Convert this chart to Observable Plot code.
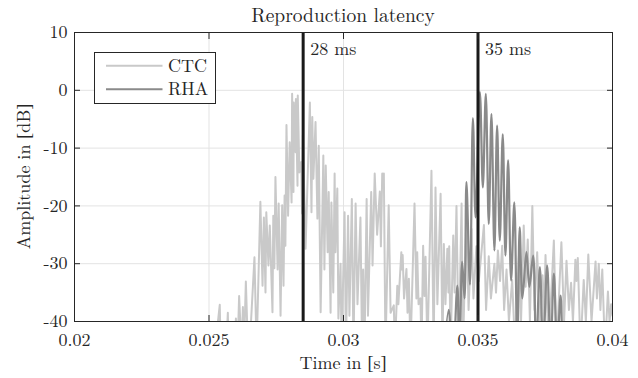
<!DOCTYPE html>
<html><head><meta charset="utf-8">
<script src="https://cdn.jsdelivr.net/npm/d3@7"></script>
<script src="https://cdn.jsdelivr.net/npm/@observablehq/plot@0.6"></script>
<style>
html,body{margin:0;padding:0;background:#fff;}
</style></head><body><div id="chart"></div>
<script>
// CTC series: time in ms, level in dB (values below -40 fall outside the axis)
const ctcT = [20.00,24.87,25.40,25.50,25.70,25.80,26.00,26.06,26.12,26.21,26.26,26.30,26.37,26.47,26.69,26.77,26.91,26.99,27.04,27.10,27.13,27.21,27.26,27.36,27.39,27.43,27.47,27.55,27.59,27.66,27.72,27.77,27.81,27.84,27.88,27.94,28.00,28.07,28.09,28.14,28.15,28.22,28.23,28.29,28.30,28.36,28.43,28.46,28.49,28.59,28.75,28.81,28.84,28.88,28.96,29.03,29.08,29.15,29.25,29.29,29.34,29.41,29.45,29.52,29.55,29.62,29.67,29.70,29.77,29.81,29.89,29.93,30.04,30.09,30.17,30.22,30.31,30.37,30.45,30.52,30.63,30.69,30.73,30.78,30.86,30.91,31.03,31.08,31.16,31.25,31.35,31.39,31.44,31.47,31.50,31.56,31.68,31.75,31.87,31.91,32.00,32.04,32.15,32.17,32.20,32.25,32.34,32.38,32.43,32.49,32.64,32.71,32.74,32.79,32.86,32.90,32.96,33.01,33.05,33.12,33.27,33.35,33.42,33.49,33.61,33.68,33.73,33.79,33.86,33.90,33.93,33.98,34.08,34.13,34.20,34.28,34.39,34.44,34.57,34.65,34.76,34.83,34.94,35.03,35.22,35.30,35.40,35.48,35.61,35.67,35.74,35.82,35.90,35.97,36.06,36.15,36.27,36.38,36.52,36.60,36.70,36.77,36.85,36.93,37.02,37.10,37.20,37.29,37.40,37.45,37.51,37.62,37.82,37.92,38.10,38.20,38.29,38.38,38.46,38.53,38.62,38.66,38.71,38.81,38.93,39.01,39.10,39.22,39.37,39.42,39.49,39.55,39.62,39.72,39.83,39.89,39.95,40.00];
const ctcDb = [-60,-60,-37.1,-60,-38.5,-60,-39.5,-45,-35.6,-45,-37.5,-45,-33.1,-48,-28.9,-45,-19.3,-33.8,-22,-35,-21.1,-30.3,-23.4,-38.4,-21.7,-30.8,-15.0,-31,-19.6,-39,-19.9,-33.8,-18.2,-26.9,-6.0,-21.7,-9,-19.4,-0.6,-17.6,-2.1,-10.7,-1.5,-16.5,-0.9,-14.2,-12.4,-21.3,-7.8,-27.4,-2.1,-21.1,-4.6,-15.3,-5.5,-22.2,-9.6,-38.4,-11.3,-31,-13,-28,-17.6,-38.5,-19.4,-35,-14.4,-28,-17.0,-39.5,-30,-45,-21.1,-45,-21.7,-39,-18.8,-45,-19.6,-37,-22,-45,-31,-45,-18.8,-39,-17.6,-30.3,-14.4,-25,-17.5,-27,-14.4,-16,-14.4,-45,-19.9,-38.5,-37.2,-45,-33.8,-37,-28,-31,-28.5,-36,-30.9,-38.5,-32.6,-45,-19.6,-36,-28,-37,-36,-45,-26.9,-35.6,-28.8,-45,-13.9,-45,-16.8,-37,-17.9,-45,-26.6,-37,-27.4,-35,-27,-45,-25.1,-35,-20,-45,-19.6,-45,-21.5,-38,-24,-36,-27,-33,-23.3,-38,-28.7,-36,-30,-35,-27.7,-33,-26.9,-38,-31,-40,-32.8,-45,-28.7,-40,-23.4,-34,-25.8,-40,-20,-38,-28,-40,-32,-40,-28.5,-45,-26,-45,-26.3,-40,-29.5,-38,-33.3,-40,-29.3,-33,-29,-45,-32.8,-40,-28.4,-40,-29.6,-36,-30,-38,-31,-45,-34.8,-40,-37,-39];

// RHA series: time in ms, level in dB
const rhaT = [33.50,33.91,34.05,34.23,34.31,34.41,34.50,34.57,34.70,34.81,34.91,35.07,35.18,35.29,35.40,35.50,35.61,35.71,35.81,35.92,36.02,36.12,36.23,36.35,36.46,36.55,36.65,36.80,36.91,37.05,37.16,37.30,37.42,37.57,37.70,37.82,37.94,38.07,38.18,38.40];
const rhaDb = [-60,-38,-50,-33.8,-45,-29.7,-36,-15.9,-33.6,-4.8,-22,-0.3,-16.8,-0.6,-23.1,-4.1,-27.7,-6.1,-26,-7.6,-28.6,-12.1,-32.9,-19.4,-45,-23.7,-36,-28,-34,-28.6,-45,-30.6,-45,-30.3,-45,-31.7,-45,-35.5,-50,-60];

const markerT = [0.0285, 0.035];
const markerLabels = ["28 ms", "35 ms"];
const xTicks = [0.02, 0.025, 0.03, 0.035, 0.04];
const xTickLabels = ["0.02", "0.025", "0.03", "0.035", "0.04"];
const yTicks = [-40, -30, -20, -10, 0, 10];
const yTickLabels = ["-40", "-30", "-20", "-10", "0", "10"];
const seriesNames = ["CTC", "RHA"];
const seriesColors = ["#c9c9c9", "#8a8a8a"];

const ctc = ctcT.map((t, i) => ({time: t / 1000, db: ctcDb[i]}));
const rha = rhaT.map((t, i) => ({time: t / 1000, db: rhaDb[i]}));
const markers = markerT.map((t, i) => ({time: t, label: markerLabels[i]}));

const FONT = "Latin Modern Roman";
const BRACKET_FONT = "Liberation Serif";
const INK = "#262626";

const plot = Plot.plot({
  width: 638, height: 378,
  marginLeft: 74, marginRight: 26, marginTop: 32, marginBottom: 57,
  style: {fontFamily: FONT, fontSize: "18px", color: INK, background: "#fff"},
  x: {domain: [0.02, 0.04], label: null},
  y: {domain: [-40, 10], label: null},
  marks: [
    Plot.gridX(xTicks.slice(1, -1), {stroke: "#e3e3e3", strokeOpacity: 1}),
    Plot.gridY(yTicks.slice(1, -1), {stroke: "#e3e3e3", strokeOpacity: 1}),
    Plot.line(ctc, {x: "time", y: "db", stroke: seriesColors[0], strokeWidth: 2, clip: true}),
    Plot.line(rha, {x: "time", y: "db", stroke: seriesColors[1], strokeWidth: 2.2, curve: "catmull-rom", clip: true}),
    Plot.ruleX(markers, {x: "time", stroke: "#1a1a1a", strokeWidth: 3}),
    Plot.text(markers, {x: "time", text: "label", frameAnchor: "top", textAnchor: "start", lineAnchor: "top", dx: 7, dy: 10, fill: INK, fontSize: 18, fontFamily: FONT}),
    Plot.frame({stroke: INK, strokeWidth: 1}),
    Plot.axisX({ticks: xTicks, tickFormat: d => xTickLabels[xTicks.indexOf(d)], tickSize: -6, tickPadding: 18, stroke: INK, label: null, fontSize: 18, fontFamily: FONT}),
    Plot.axisX({anchor: "top", ticks: xTicks, tickFormat: () => "", tickSize: -6, stroke: INK, label: null}),
    Plot.axisY({ticks: yTicks, tickFormat: d => yTickLabels[yTicks.indexOf(d)], tickSize: -6, tickPadding: 13, stroke: INK, label: null, fontSize: 18, fontFamily: FONT}),
    Plot.axisY({anchor: "right", ticks: yTicks, tickFormat: () => "", tickSize: -6, stroke: INK, label: null})
  ]
});

const svg = d3.select(plot);
// text with optional bracket part rendered in a fallback serif
const addText = (x, y, parts, size, anchor, transform) => {
  const t = svg.append("text").attr("text-anchor", anchor)
    .attr("font-family", FONT).attr("font-size", size).attr("fill", INK);
  parts.forEach(([s, f]) => t.append("tspan").attr("font-family", f || FONT).attr("fill", INK).text(s));
  if (transform) t.attr("transform", transform); else t.attr("x", x).attr("y", y);
  return t;
};
addText(343, 22, [["Reproduction latency"]], 19.5, "middle");
addText(343, 369, [["Time in "], ["[", BRACKET_FONT], ["s"], ["]", BRACKET_FONT]], 18, "middle");
addText(0, 0, [["Amplitude in "], ["[", BRACKET_FONT], ["dB"], ["]", BRACKET_FONT]], 18, "middle", "translate(30,176.5) rotate(-90)");

const lg = svg.append("g");
lg.append("rect").attr("x", 94.5).attr("y", 52.5).attr("width", 121).attr("height", 51)
  .attr("fill", "#fff").attr("stroke", INK).attr("stroke-width", 1);
seriesNames.forEach((name, i) => {
  const yy = 65.7 + i * 23.6;
  lg.append("line").attr("x1", 106).attr("x2", 162.5).attr("y1", yy).attr("y2", yy)
    .attr("stroke", seriesColors[i]).attr("stroke-width", 2);
  lg.append("text").attr("x", 168).attr("y", yy + 6).attr("text-anchor", "start")
    .attr("font-family", FONT).attr("font-size", 18).attr("fill", INK).text(name);
});

document.getElementById("chart").appendChild(plot);
</script>
</body></html>
